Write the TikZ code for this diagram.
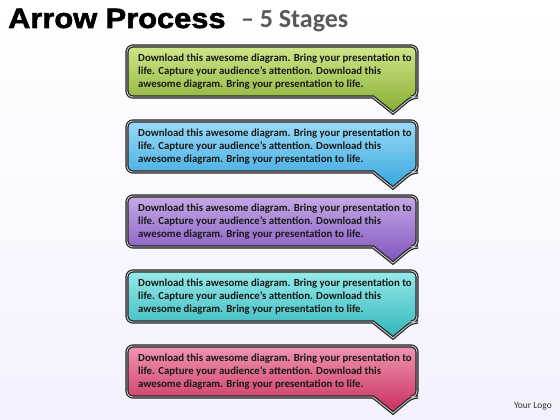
\documentclass[tikz,border=0pt]{standalone}
\usepackage{fontspec}
\setmainfont{Carlito}
\newfontfamily\titlefont[FakeStretch=1.1,FakeBold=2]{Liberation Sans}
\usetikzlibrary{positioning}

\definecolor{greentop}{HTML}{CFE68A}
\definecolor{greenbot}{HTML}{86AE32}
\definecolor{bluetop}{HTML}{9ADAF7}
\definecolor{bluebot}{HTML}{36A6DE}
\definecolor{purpletop}{HTML}{C6A9E6}
\definecolor{purplebot}{HTML}{7E53BE}
\definecolor{tealtop}{HTML}{98EAEA}
\definecolor{tealbot}{HTML}{2DB5BA}
\definecolor{pinktop}{HTML}{F095B2}
\definecolor{pinkbot}{HTML}{C72F5C}
\definecolor{subgray}{HTML}{595959}

\newcommand{\stagetext}{Download this awesome diagram. Bring your presentation to\\
life. Capture your audience’s attention. Download this\\
awesome diagram. Bring your presentation to life.}

\begin{document}
\begin{tikzpicture}[x=1pt,y=-1pt]

    \tikzset{
      callout/.style={
        draw=black!85,
        double=gray!45,
        double distance=0.9pt,
        line width=1.2pt,
        rounded corners=6pt,
      },
      calltext/.style={
        anchor=west,
        align=left,
        inner sep=0pt,
        text=black!90,
        font=\fontsize{10.8}{13}\selectfont\bfseries,
      },
    }
    \useasboundingbox[top color=white,bottom color=blue!5] (0,0) rectangle (560,420);

	% title
	\node[anchor=base west,inner sep=0pt] (title) at (8,28) {\titlefont\fontsize{28}{32}\selectfont\bfseries Arrow Process};
	\node[inner sep=0pt,right=15pt of title.base east,anchor=base west,text=subgray] (subtitle) {\fontsize{26}{30}\selectfont\bfseries – 5 Stages};

	% stage 1
	\draw[callout,top color=greentop,bottom color=greenbot] (127,46) -- (417,46) -- (417,97) -- (412,97) [sharp corners] -- (393,113) -- (373,97) [rounded corners=6pt] -- (127,97) -- cycle;
	\node[calltext] (stageA) at (138,71.5) {\stagetext};
	% stage 2
	\draw[callout,top color=bluetop,bottom color=bluebot] (127,121) -- (417,121) -- (417,172) -- (412,172) [sharp corners] -- (393,188) -- (373,172) [rounded corners=6pt] -- (127,172) -- cycle;
	\node[calltext] (stageB) at (138,146.5) {\stagetext};
	% stage 3
	\draw[callout,top color=purpletop,bottom color=purplebot] (127,196) -- (417,196) -- (417,247) -- (412,247) [sharp corners] -- (393,263) -- (373,247) [rounded corners=6pt] -- (127,247) -- cycle;
	\node[calltext] (stageC) at (138,221.5) {\stagetext};
	% stage 4
	\draw[callout,top color=tealtop,bottom color=tealbot] (127,271) -- (417,271) -- (417,322) -- (412,322) [sharp corners] -- (393,338) -- (373,322) [rounded corners=6pt] -- (127,322) -- cycle;
	\node[calltext] (stageD) at (138,296.5) {\stagetext};
	% stage 5
	\draw[callout,top color=pinktop,bottom color=pinkbot] (127,346) -- (417,346) -- (417,397) -- (412,397) [sharp corners] -- (393,413) -- (373,397) [rounded corners=6pt] -- (127,397) -- cycle;
	\node[calltext] (stageE) at (138,371.5) {\stagetext};

	% logo
	\node[anchor=east,inner sep=0pt,text=black!80] (logo) at (552,406) {\fontsize{9.5}{11}\selectfont Your Logo};

\end{tikzpicture}
\end{document}
